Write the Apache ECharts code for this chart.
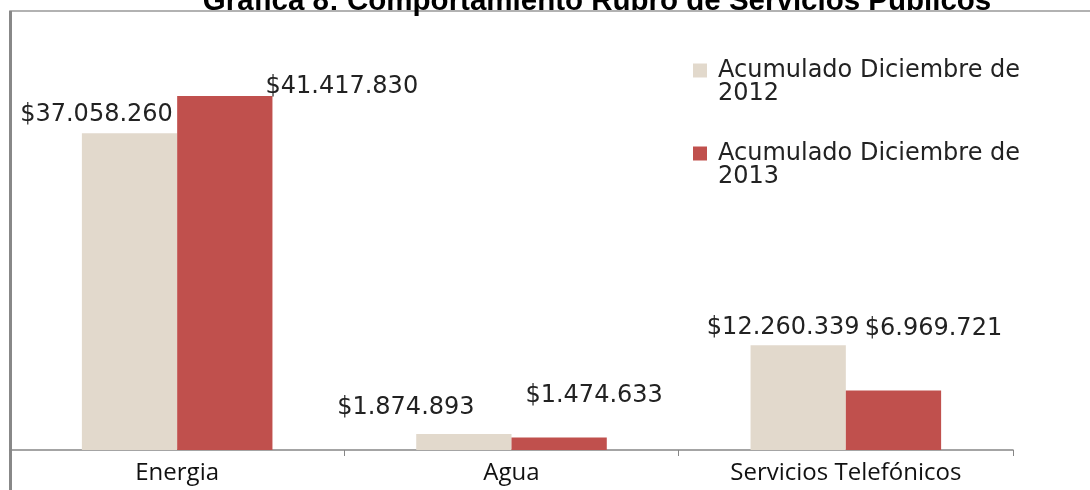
<!DOCTYPE html>
<html>
<head>
<meta charset="utf-8">
<script src="https://cdn.jsdelivr.net/npm/echarts@6/dist/echarts.min.js"></script>
<style>
  html, body { margin: 0; padding: 0; background: #fff; }
  #chart { width: 1090px; height: 490px; }
</style>
</head>
<body>
<div id="chart"></div>
<script>
// datos
var categorias = ['Energia', 'Agua', 'Servicios Telefónicos']
var serie2012 = [37058260, 1874893, 12260339]
var serie2013 = [41417830, 1474633, 6969721]
var nombres = ['Acumulado Diciembre de 2012', 'Acumulado Diciembre de 2013']

// desplazamiento de las etiquetas (como en el excel original)
var off2012 = [[-33, -1], [-58, -9], [-15, 0]]
var off2013 = [[117, 8], [35, -25], [40, -45]]

function pesos(v) {
    return '$' + String(v).replace(/\B(?=(\d{3})+(?!\d))/g, '.')
}

function armar(valores, offs) {
    return valores.map(function (v, i) {
        return { value: v, label: { offset: offs[i] } }
    })
}

var labelStyle = {
    show: true,
    position: 'top',
    fontFamily: 'DejaVu Sans',
    fontSize: 24,
    color: '#222',
    formatter: function (p) { return pesos(p.value) }
}

var myChart = echarts.init(document.getElementById('chart'))
myChart.setOption({
    animation: false,
    title: {
        text: 'Gráfica 8: Comportamiento Rubro de Servicios Públicos',
        left: 592,
        textAlign: 'center',
        top: -18,
        textStyle: {
            fontFamily: 'Liberation Sans',
            fontWeight: 'bold',
            fontSize: 29.5,
            color: '#000'
        }
    },
    graphic: [
        {
            type: 'rect',
            shape: { x: 10, y: 11, width: 1100, height: 500 },
            style: { fill: 'none', stroke: '#999', lineWidth: 1.5 },
            silent: true
        },
        {
            type: 'line',
            shape: { x1: 10.5, y1: 11, x2: 10.5, y2: 490 },
            style: { stroke: '#888', lineWidth: 3 },
            silent: true
        }
    ],
    legend: {
        orient: 'vertical',
        left: 693,
        top: 35.5,
        padding: 0,
        itemWidth: 14,
        itemHeight: 14,
        itemGap: 13,
        icon: 'rect',
        data: nombres,
        formatter: function (n) {
            var p = n.split(' de ')
            return '{t|}\n{t|' + p[0] + ' de}\n{t|' + p[1] + '}'
        },
        textStyle: {
            rich: {
                t: {
                    fontFamily: 'DejaVu Sans',
                    fontSize: 24,
                    lineHeight: 23,
                    color: '#222',
                    padding: [0, 0, 0, 6]
                }
            }
        }
    },
    grid: {
        left: 10,
        right: 77,
        top: 22.5,
        bottom: 40
    },
    xAxis: {
        type: 'category',
        data: categorias,
        axisLine: { lineStyle: { color: '#868686', width: 1.5 } },
        axisTick: { show: true, length: 6, lineStyle: { color: '#868686' } },
        axisLabel: {
            fontFamily: 'Open Sans',
            fontSize: 24,
            color: '#111',
            margin: 11
        }
    },
    yAxis: {
        type: 'value',
        show: false,
        min: 0,
        max: 50000000,
        splitLine: { show: false }
    },
    series: [
        {
            name: nombres[0],
            type: 'bar',
            barGap: 0,
            barCategoryGap: '43%',
            itemStyle: { color: '#E2D9CC' },
            label: labelStyle,
            data: armar(serie2012, off2012)
        },
        {
            name: nombres[1],
            type: 'bar',
            barGap: 0,
            barCategoryGap: '43%',
            itemStyle: { color: '#C0504D' },
            label: labelStyle,
            data: armar(serie2013, off2013)
        }
    ]
});
</script>
</body>
</html>
